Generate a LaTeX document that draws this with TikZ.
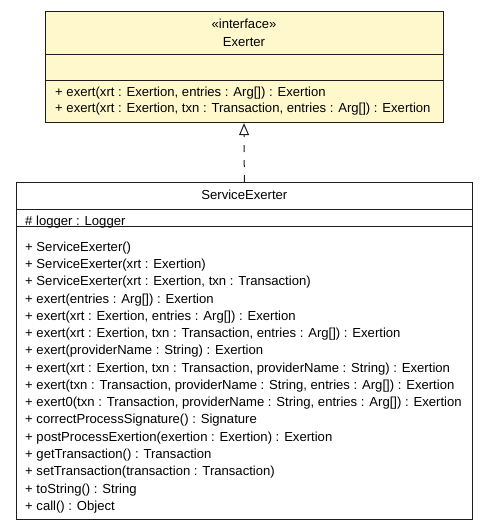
\documentclass[tikz,border=0pt]{standalone}
\usepackage{fontspec}
\setmainfont{Liberation Sans}
\usetikzlibrary{arrows.meta}
\definecolor{ifcfill}{RGB}{255,248,204}
\definecolor{umlline}{RGB}{30,30,30}

\begin{document}
\begin{tikzpicture}[x=1pt, y=-1pt,
	classbox/.style={draw=umlline, line width=1pt, inner sep=0pt},
	member/.style={anchor=base west, inner sep=0pt, font=\fontsize{13.1}{15}\selectfont},
	title/.style={anchor=base, inner sep=0pt, font=\fontsize{13.1}{15}\selectfont},
	realize/.style={draw=umlline, line width=1pt, dash pattern=on 7pt off 8pt, -{Triangle[open, length=12pt, width=10pt, fill=white]}}]

\useasboundingbox (0,0) rectangle (488,531);

% interface Exerter
\node[classbox, fill=ifcfill, minimum width=398pt, minimum height=111.7pt] (exerter) at (244,66.85) {};
\draw[umlline, line width=1pt] (exerter.west |- 0,54.3) -- (exerter.east |- 0,54.3);
\draw[umlline, line width=1pt] (exerter.west |- 0,80) -- (exerter.east |- 0,80);
\node[title] (exerterstereo) at (244,28.5) {«interface»};
\node[title] (exertername) at (244,46.2) {Exerter};
\node[member] (exerterop1) at (55,96.2) {+ exert(xrt : Exertion, entries : Arg[]) : Exertion};
\node[member] (exerterop2) at (55,112.8) {+ exert(xrt : Exertion, txn : Transaction, entries : Arg[]) : Exertion};

% class ServiceExerter
\node[classbox, fill=white, minimum width=456.7pt, minimum height=336.6pt] (svc) at (244.35,351) {};
\draw[umlline, line width=1pt] (svc.west |- 0,209.3) -- (svc.east |- 0,209.3);
\draw[umlline, line width=1pt] (svc.west |- 0,226.7) -- (svc.east |- 0,226.7);
\node[title] (svcname) at (244.35,199.5) {ServiceExerter};
\node[member] (svcattr) at (25,225.5) {\# logger : Logger};

\node[member] (svcop1) at (25,251.2) {+ ServiceExerter()};
\node[member] (svcop2) at (25,268.5) {+ ServiceExerter(xrt : Exertion)};
\node[member] (svcop3) at (25,285.7) {+ ServiceExerter(xrt : Exertion, txn : Transaction)};
\node[member] (svcop4) at (25,303.0) {+ exert(entries : Arg[]) : Exertion};
\node[member] (svcop5) at (25,320.3) {+ exert(xrt : Exertion, entries : Arg[]) : Exertion};
\node[member] (svcop6) at (25,337.5) {+ exert(xrt : Exertion, txn : Transaction, entries : Arg[]) : Exertion};
\node[member] (svcop7) at (25,354.8) {+ exert(providerName : String) : Exertion};
\node[member] (svcop8) at (25,372.1) {+ exert(xrt : Exertion, txn : Transaction, providerName : String) : Exertion};
\node[member] (svcop9) at (25,389.4) {+ exert(txn : Transaction, providerName : String, entries : Arg[]) : Exertion};
\node[member] (svcop10) at (25,406.6) {+ exert0(txn : Transaction, providerName : String, entries : Arg[]) : Exertion};
\node[member] (svcop11) at (25,423.9) {+ correctProcessSignature() : Signature};
\node[member] (svcop12) at (25,441.2) {+ postProcessExertion(exertion : Exertion) : Exertion};
\node[member] (svcop13) at (25,458.4) {+ getTransaction() : Transaction};
\node[member] (svcop14) at (25,475.7) {+ setTransaction(transaction : Transaction)};
\node[member] (svcop15) at (25,493.0) {+ toString() : String};
\node[member] (svcop16) at (25,510.2) {+ call() : Object};

% realization
\draw[realize] (svc.north) -- (exerter.south);

\end{tikzpicture}
\end{document}
